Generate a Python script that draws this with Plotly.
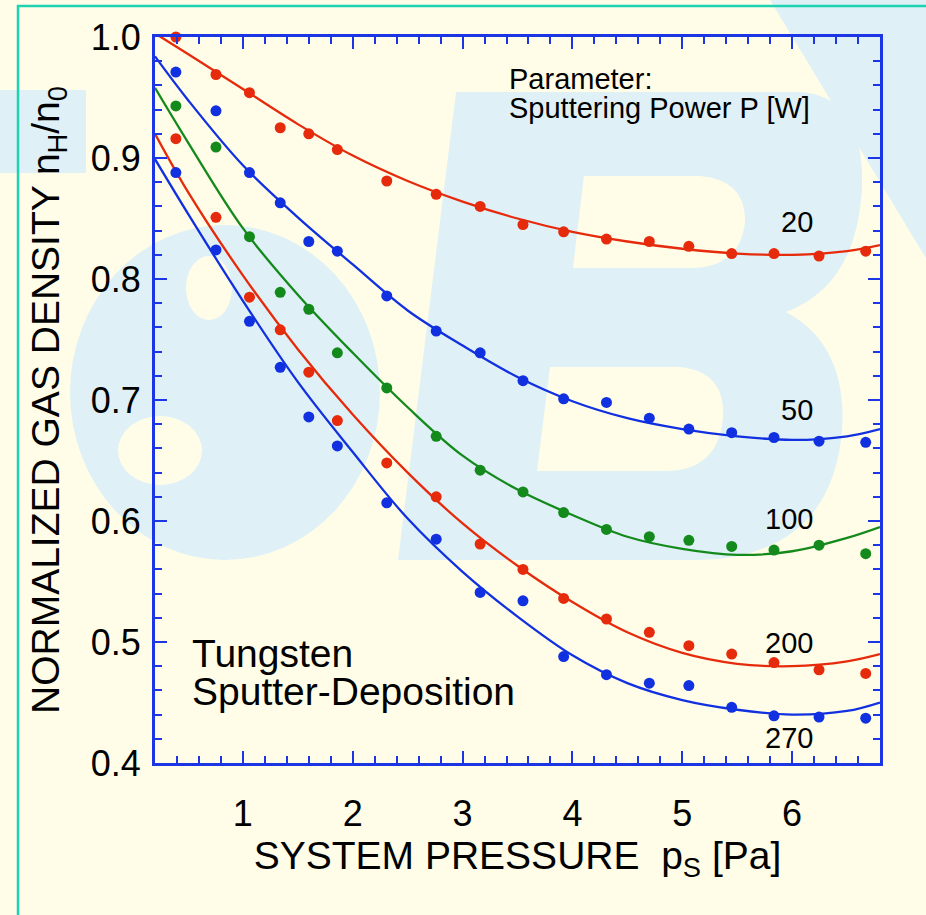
import plotly.graph_objects as go

# ---------------- data ----------------
pressure_pts = [0.39, 0.755, 1.06, 1.34, 1.60, 1.86, 2.31, 2.76, 3.16, 3.55,
                3.92, 4.31, 4.70, 5.06, 5.45, 5.835, 6.245, 6.67]

meas_20 = [1.000, 0.969, 0.954, 0.925, 0.920, 0.907, 0.881, 0.870, 0.860, 0.845,
           0.839, 0.833, 0.831, 0.827, 0.821, 0.821, 0.819, 0.823]
meas_50 = [0.971, 0.939, 0.888, 0.863, 0.831, 0.823, 0.786, 0.757, 0.739, 0.716,
           0.701, 0.698, 0.685, 0.676, 0.673, 0.669, 0.666, 0.665]
meas_100 = [0.943, 0.909, 0.835, 0.789, 0.775, 0.739, 0.710, 0.670, 0.642, 0.624,
            0.607, 0.593, 0.587, 0.584, 0.579, 0.576, 0.580, 0.573]
meas_200 = [0.916, 0.851, 0.785, 0.758, 0.723, 0.683, 0.648, 0.620, 0.581, 0.560,
            0.536, 0.519, 0.508, 0.497, 0.490, 0.483, 0.477, 0.474]
meas_270 = [0.888, 0.824, 0.765, 0.727, 0.686, 0.662, 0.615, 0.585, 0.541, 0.534,
            0.488, 0.473, 0.466, 0.464, 0.446, 0.439, 0.438, 0.437]

curve_x = [0.2, 0.5, 1.0, 1.5, 2.0, 2.5, 3.0, 3.5, 4.0, 4.5, 5.0, 5.5, 6.0, 6.5, 6.8]
curve_20 = [1.003, 0.986, 0.957, 0.928, 0.902, 0.881, 0.864, 0.850, 0.839, 0.831,
            0.825, 0.821, 0.820, 0.823, 0.828]
curve_50 = [0.984, 0.948, 0.894, 0.851, 0.812, 0.774, 0.745, 0.719, 0.699, 0.685,
            0.676, 0.670, 0.667, 0.670, 0.676]
curve_100 = [0.958, 0.913, 0.842, 0.787, 0.739, 0.694, 0.654, 0.626, 0.605, 0.587,
             0.577, 0.572, 0.575, 0.586, 0.595]
curve_200 = [0.920, 0.872, 0.803, 0.742, 0.688, 0.640, 0.598, 0.563, 0.533, 0.508,
             0.491, 0.482, 0.480, 0.484, 0.490]
curve_270 = [0.899, 0.854, 0.782, 0.715, 0.657, 0.602, 0.558, 0.521, 0.489, 0.466,
             0.452, 0.444, 0.440, 0.443, 0.450]

power_labels = ["20", "50", "100", "200", "270"]
label_y = [0.847, 0.692, 0.602, 0.499, 0.421]

x_ticks = [1, 2, 3, 4, 5, 6]
y_ticks = [0.4, 0.5, 0.6, 0.7, 0.8, 0.9, 1.0]

# ---------------- style ----------------
RED = "#E62A0C"
BLUE = "#1130E0"
GREEN = "#148A1C"
AXIS = "#1C36E6"
BG = "#FFFDE8"
WM = "#DFF1F6"
FONT = "Liberation Sans, Arial, Helvetica, sans-serif"

series = [
    (meas_20, curve_20, RED),
    (meas_50, curve_50, BLUE),
    (meas_100, curve_100, GREEN),
    (meas_200, curve_200, RED),
    (meas_270, curve_270, BLUE),
]

fig = go.Figure()
for meas, curve, col in series:
    fig.add_trace(go.Scatter(x=curve_x, y=curve, mode="lines",
                             line=dict(color=col, width=2.3, shape="spline", smoothing=1.0),
                             showlegend=False, hoverinfo="skip"))
    fig.add_trace(go.Scatter(x=pressure_pts, y=meas, mode="markers",
                             marker=dict(color=col, size=11, line=dict(width=0)),
                             showlegend=False, cliponaxis=False))

# ---------------- watermark & frame decoration (pixel -> paper) ----------------
L, R, T, B = 155, 880, 37, 763


def px(x):
    return (x - L) / (R - L)


def py(y):
    return (B - y) / (B - T)


def path(cmds):
    out = []
    for c in cmds:
        if isinstance(c, str):
            out.append(c)
        else:
            out.append(f"{px(c[0]):.4f},{py(c[1]):.4f}")
    return " ".join(out)


shapes = []
# horizontal band at left
shapes.append(dict(type="rect", xref="paper", yref="paper", layer="below",
                   x0=px(0), x1=px(86), y0=py(173), y1=py(90),
                   fillcolor=WM, line=dict(width=0)))
# ampersand-like blob
shapes.append(dict(type="circle", xref="paper", yref="paper", layer="below",
                   x0=px(70), x1=px(380), y0=py(560), y1=py(225),
                   fillcolor=WM, line=dict(width=0)))
shapes.append(dict(type="circle", xref="paper", yref="paper", layer="below",
                   x0=px(186), x1=px(232), y0=py(320), y1=py(256),
                   fillcolor=BG, line=dict(width=0)))
shapes.append(dict(type="circle", xref="paper", yref="paper", layer="below",
                   x0=px(118), x1=px(202), y0=py(485), y1=py(416),
                   fillcolor=BG, line=dict(width=0)))
# big "B"
shapes.append(dict(type="path", xref="paper", yref="paper", layer="below",
                   path=path(["M", (456, 92), "L", (800, 92), "Q", (864, 96), "", (862, 185),
                              "Q", (858, 285), "", (786, 312), "Q", (848, 345), "", (842, 432),
                              "Q", (830, 556), "", (700, 560), "L", (398, 560), "Z"]),
                   fillcolor=WM, line=dict(width=0)))
shapes.append(dict(type="path", xref="paper", yref="paper", layer="below",
                   path=path(["M", (584, 176), "L", (700, 176), "Q", (746, 180), "", (745, 222),
                              "Q", (740, 268), "", (690, 268), "L", (573, 268), "Z"]),
                   fillcolor=BG, line=dict(width=0)))
shapes.append(dict(type="path", xref="paper", yref="paper", layer="below",
                   path=path(["M", (550, 367), "L", (680, 367), "Q", (726, 372), "", (723, 418),
                              "Q", (718, 471), "", (665, 471), "L", (537, 471), "Z"]),
                   fillcolor=BG, line=dict(width=0)))
# diagonal band, top right
shapes.append(dict(type="path", xref="paper", yref="paper", layer="below",
                   path=path(["M", (770, 0), "L", (930, 0), "L", (930, 265), "Z"]),
                   fillcolor=WM, line=dict(width=0)))
# teal outer border
shapes.append(dict(type="rect", xref="paper", yref="paper", layer="above",
                   x0=px(18), x1=px(960), y0=py(960), y1=py(6),
                   fillcolor="rgba(0,0,0,0)", line=dict(color="#1DD3B2", width=2.5)))

annotations = []
for lab, ly in zip(power_labels, label_y):
    annotations.append(dict(x=6.21, y=ly, xref="x", yref="y", text=lab, showarrow=False,
                            xanchor="right", yanchor="middle",
                            font=dict(family=FONT, size=29, color="black")))
annotations += [
    dict(x=px(507), y=py(79), xref="paper", yref="paper", text="Parameter:", showarrow=False,
         xanchor="left", yanchor="middle", font=dict(family=FONT, size=29, color="black")),
    dict(x=px(507), y=py(108), xref="paper", yref="paper", text="Sputtering Power P [W]",
         showarrow=False, xanchor="left", yanchor="middle",
         font=dict(family=FONT, size=29, color="black")),
    dict(x=px(190), y=py(653), xref="paper", yref="paper", text="Tungsten", showarrow=False,
         xanchor="left", yanchor="middle", font=dict(family=FONT, size=39, color="black")),
    dict(x=px(190), y=py(691), xref="paper", yref="paper", text="Sputter-Deposition",
         showarrow=False, xanchor="left", yanchor="middle",
         font=dict(family=FONT, size=39, color="black")),
]

axis_common = dict(showline=True, linecolor=AXIS, linewidth=3, mirror="allticks",
                   ticks="inside", ticklen=12, tickwidth=2, tickcolor=AXIS,
                   showgrid=False, zeroline=False, automargin=False,
                   tickfont=dict(family=FONT, size=36, color="black"))

fig.update_layout(
    width=926, height=915,
    margin=dict(l=L, r=926 - R, t=T, b=915 - B),
    paper_bgcolor=BG, plot_bgcolor=BG,
    font=dict(family=FONT, color="black"),
    shapes=shapes, annotations=annotations,
    xaxis=dict(range=[0.2, 6.8], tickvals=x_ticks, ticklabelstandoff=17,
               minor=dict(dtick=0.2, tick0=0, ticks="inside", ticklen=7, tickwidth=2,
                          tickcolor=AXIS, showgrid=False),
               title=dict(text="SYSTEM PRESSURE\u00a0\u00a0p<sub>S</sub> [Pa]",
                          font=dict(family=FONT, size=39, color="black"), standoff=2),
               **axis_common),
    yaxis=dict(range=[0.4, 1.0], tickvals=y_ticks, tickformat=".1f", ticklabelstandoff=4,
               minor=dict(dtick=0.02, tick0=0.4, ticks="inside", ticklen=7, tickwidth=2,
                          tickcolor=AXIS, showgrid=False),
               title=dict(text="NORMALIZED GAS DENSITY n<sub>H</sub>/n<sub>0</sub>",
                          font=dict(family=FONT, size=39, color="black"), standoff=20),
               **axis_common),
)

fig.write_html("out.html", config={"displayModeBar": False},
               post_script="document.body.style.margin='0px';"
                           "document.body.style.background='#FFFDE8';")
